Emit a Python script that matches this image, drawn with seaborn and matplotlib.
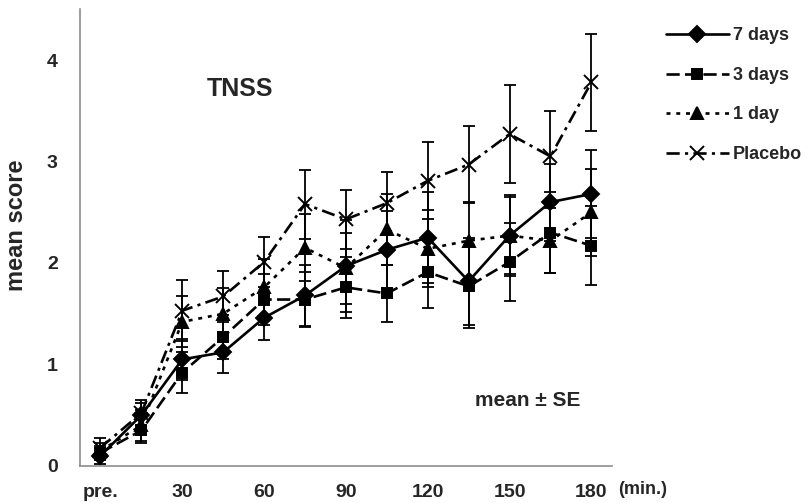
import numpy as np
import pandas as pd
import matplotlib.pyplot as plt
import seaborn as sns

sns.set_style('white')
plt.rcParams['font.family'] = ['Liberation Sans', 'DejaVu Sans']
plt.rcParams['font.weight'] = 'bold'

# time points (min.)
times = ['pre.', '15', '30', '45', '60', '75', '90', '105', '120', '135', '150', '165', '180']
tick_labels = ['pre.', '30', '60', '90', '120', '150', '180']

groups = ['7 days', '3 days', '1 day', 'Placebo']
mean_7d = [0.10, 0.50, 1.05, 1.12, 1.46, 1.68, 1.97, 2.13, 2.25, 1.82, 2.27, 2.60, 2.68]
mean_3d = [0.13, 0.35, 0.92, 1.27, 1.64, 1.64, 1.76, 1.70, 1.91, 1.77, 2.01, 2.30, 2.17]
mean_1d = [0.15, 0.40, 1.42, 1.50, 1.76, 2.15, 1.95, 2.33, 2.14, 2.22, 2.27, 2.22, 2.50]
mean_pl = [0.18, 0.52, 1.53, 1.67, 2.01, 2.58, 2.43, 2.59, 2.81, 2.97, 3.27, 3.05, 3.78]

se_7d = [0.08, 0.12, 0.20, 0.20, 0.22, 0.30, 0.45, 0.38, 0.45, 0.43, 0.38, 0.38, 0.43]
se_3d = [0.07, 0.12, 0.20, 0.22, 0.25, 0.27, 0.30, 0.28, 0.35, 0.41, 0.38, 0.40, 0.39]
se_1d = [0.08, 0.15, 0.25, 0.25, 0.28, 0.33, 0.35, 0.35, 0.38, 0.38, 0.40, 0.32, 0.43]
se_pl = [0.10, 0.13, 0.30, 0.25, 0.25, 0.34, 0.29, 0.31, 0.38, 0.38, 0.48, 0.45, 0.48]

means = [mean_7d, mean_3d, mean_1d, mean_pl]
ses = [se_7d, se_3d, se_1d, se_pl]

rows = []
for g, m, s in zip(groups, means, ses):
    for i, t in enumerate(times):
        rows.append({'group': g, 'pos': i, 'time': t, 'mean': m[i], 'se': s[i]})
df = pd.DataFrame(rows)

fig = plt.figure(figsize=(8.12, 5.03), dpi=100)
ax = fig.add_axes([0.0985, 0.0736, 0.655, 0.908])

markers = {'7 days': 'D', '3 days': 's', '1 day': '^', 'Placebo': 'x'}
msizes = {'7 days': 8, '3 days': 7.5, '1 day': 8.5, 'Placebo': 10}
dashes = {'7 days': None, '3 days': (5, 2), '1 day': (1.5, 2.2), 'Placebo': (5, 2, 1.2, 2)}

for g in groups:
    d = df[df['group'] == g]
    ax.errorbar(d['pos'], d['mean'], yerr=d['se'], fmt='none', ecolor='black',
                elinewidth=1.3, capsize=4, capthick=1.3, zorder=1)
    sns.lineplot(data=d, x='pos', y='mean', color='black', marker=markers[g],
                 markersize=msizes[g], markeredgecolor='black', markeredgewidth=1.4,
                 linewidth=1.9, ax=ax, errorbar=None, label=g)
    ln = ax.get_lines()[-1]
    if dashes[g]:
        ln.set_dashes(dashes[g])

ax.set_xlim(-0.5, 12.5)
ax.set_ylim(0, 4.5)
ax.set_xticks([times.index(t) for t in tick_labels])
ax.set_xticklabels(tick_labels, fontsize=14, fontweight='bold')
ax.set_xticks(np.arange(-0.5, 13, 1), minor=True)
ax.set_yticks([0, 1, 2, 3, 4])
ax.set_yticklabels(['0', '1', '2', '3', '4'], fontsize=14, fontweight='bold')
ax.set_yticks(np.arange(0.5, 4.6, 1), minor=True)
ax.tick_params(axis='x', which='major', length=0, pad=13)
ax.tick_params(axis='x', which='minor', direction='in', length=5, color='#8c8c8c')
ax.tick_params(axis='y', which='both', direction='in', length=5, color='#8c8c8c', pad=16)
ax.set_xlabel('')
ax.set_ylabel('mean score', fontsize=17, fontweight='bold')
ax.yaxis.set_label_coords(-0.098, 0.528)

for side in ['top', 'right']:
    ax.spines[side].set_visible(False)
for side in ['left', 'bottom']:
    ax.spines[side].set_color('#8c8c8c')
    ax.spines[side].set_linewidth(1.2)

ax.text(1.012, -0.052, '(min.)', transform=ax.transAxes, fontsize=13,
        fontweight='bold', va='center', ha='left')
ax.text(0.30, 0.825, 'TNSS', transform=ax.transAxes, fontsize=18,
        fontweight='bold', ha='center', va='center')
ax.text(0.842, 0.144, 'mean \u00b1 SE', transform=ax.transAxes, fontsize=15,
        fontweight='bold', ha='center', va='center')

ax.legend(loc='upper left', bbox_to_anchor=(0.8, 0.978),
          bbox_transform=fig.transFigure, frameon=False, handlelength=3.5,
          handletextpad=0.2, labelspacing=1.25, prop={'size': 13, 'weight': 'bold'})

fig.savefig('out.png', dpi=100)
